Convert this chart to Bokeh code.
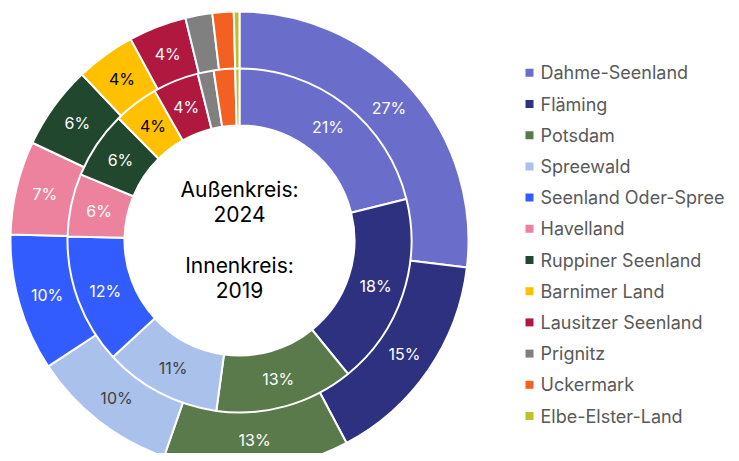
import math
from bokeh.plotting import figure
from bokeh.models import Range1d, ColumnDataSource
from bokeh.core.properties import value
from bokeh.embed import file_html
from bokeh.resources import INLINE

# ---- data ----
regions = ["Dahme-Seenland", "Fläming", "Potsdam", "Spreewald", "Seenland Oder-Spree",
           "Havelland", "Ruppiner Seenland", "Barnimer Land", "Lausitzer Seenland",
           "Prignitz", "Uckermark", "Elbe-Elster-Land"]
share_2024 = [26.9, 15.4, 13.1, 10.4, 9.7, 6.6, 5.9, 4.2, 4.1, 1.9, 1.5, 0.4]
share_2019 = [21.1, 18.0, 13.0, 11.0, 12.2, 5.9, 6.3, 4.2, 4.3, 1.5, 2.0, 0.4]
colors = ["#6a6dc9", "#2e3080", "#5b7a4b", "#a9c1eb", "#335cff", "#ec829e",
          "#22472f", "#ffc000", "#b0183f", "#808080", "#f26122", "#bfbf2e"]
label_colors = ["#ffffff", "#ffffff", "#ffffff", "#404040", "#ffffff", "#ffffff",
                "#ffffff", "#000000", "#ffffff", "#ffffff", "#ffffff", "#ffffff"]
center_lines = ["Außenkreis:", "2024", "Innenkreis:", "2019"]

FONT = "Inter"
W, H = 731, 453


def px(X, Y):
    """reference pixel -> data coords"""
    return X, H - Y


p = figure(width=W, height=H, output_backend="svg", toolbar_location=None,
           x_range=Range1d(0, W), y_range=Range1d(0, H), min_border=0)
p.axis.visible = False
p.grid.visible = False
p.outline_line_color = None
p.background_fill_color = "white"

cx, cy = px(239, 240)


def ring(values, r_in, r_out):
    total = sum(values)
    starts, ends, lx, ly, labels = [], [], [], [], []
    cum = 0.0
    for v in values:
        t0 = cum / total * 2 * math.pi
        cum += v
        t1 = cum / total * 2 * math.pi
        starts.append(math.pi / 2 - t0)
        ends.append(math.pi / 2 - t1)
        tm = (t0 + t1) / 2
        rm = (r_in + r_out) / 2
        lx.append(cx + rm * math.sin(tm))
        ly.append(cy + rm * math.cos(tm))
        pct = v / total * 100
        labels.append(f"{round(pct)}%" if pct >= 3 else "")
    src = ColumnDataSource(dict(start=starts, end=ends, color=colors, lx=lx, ly=ly,
                                label=labels, lc=label_colors))
    p.annular_wedge(x=cx, y=cy, inner_radius=r_in, outer_radius=r_out,
                    start_angle="start", end_angle="end", direction="clock",
                    fill_color="color", line_color="white", line_width=2, source=src)
    p.text(x="lx", y="ly", text="label", text_color="lc", text_align="center",
           text_baseline="middle", text_font=value(FONT), text_font_size="16px", source=src)


ring(share_2024, 171, 229)
ring(share_2019, 115, 172)

# center text
for line, Y in zip(center_lines, [189, 213, 265, 289]):
    x, y = px(239, Y)
    p.text(x=[x], y=[y], text=[line], text_align="center", text_baseline="middle",
           text_font=value(FONT), text_font_size="21px", text_color="#000000")

# legend
for i, (name, c) in enumerate(zip(regions, colors)):
    Y = 72.3 + i * 31.2
    sx, sy = px(529, Y)
    p.scatter(x=[sx], y=[sy], marker="square", size=8, fill_color=c, line_color=None)
    tx, ty = px(540, Y)
    p.text(x=[tx], y=[ty], text=[name], text_align="left", text_baseline="middle",
           text_font=value(FONT), text_font_size="18px", text_color="#595959")

open("out.html", "w").write(file_html(p, INLINE))
